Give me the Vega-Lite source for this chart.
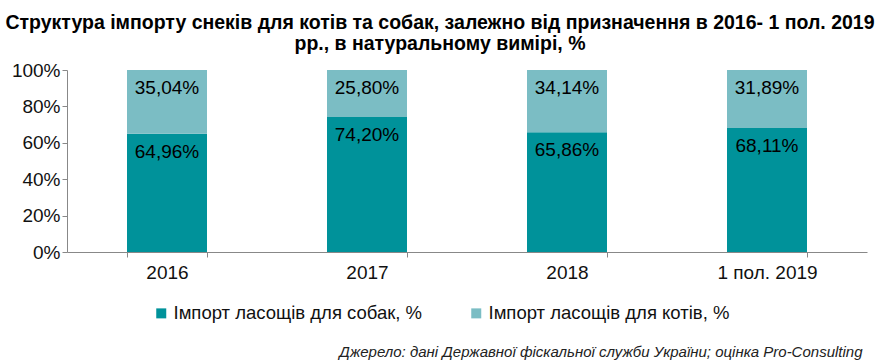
{
  "$schema": "https://vega.github.io/schema/vega-lite/v6.json",
  "width": 800,
  "height": 182,
  "autosize": {"type": "none"},
  "padding": {"left": 67, "top": 70, "right": 13, "bottom": 112},
  "background": "white",
  "config": {
    "view": {"stroke": null},
    "locale": {"number": {"decimal": ",", "thousands": " ", "grouping": [3], "currency": ["", ""]}},
    "font": "Liberation Sans"
  },
  "title": {
    "text": ["Структура імпорту снеків для котів та собак, залежно від призначення в 2016- 1 пол. 2019", "рр., в натуральному вимірі, %"],
    "font": "Liberation Sans",
    "fontSize": 19.5,
    "fontWeight": "bold",
    "color": "#000000",
    "anchor": "middle",
    "dx": -27,
    "lineHeight": 21,
    "offset": 7
  },
  "data": {
    "values": [
      {"period": "2016", "series": "Імпорт ласощів для собак, %", "share": 0.6496, "ord": 1},
      {"period": "2016", "series": "Імпорт ласощів для котів, %", "share": 0.3504, "ord": 2},
      {"period": "2017", "series": "Імпорт ласощів для собак, %", "share": 0.7420, "ord": 1},
      {"period": "2017", "series": "Імпорт ласощів для котів, %", "share": 0.2580, "ord": 2},
      {"period": "2018", "series": "Імпорт ласощів для собак, %", "share": 0.6586, "ord": 1},
      {"period": "2018", "series": "Імпорт ласощів для котів, %", "share": 0.3414, "ord": 2},
      {"period": "1 пол. 2019", "series": "Імпорт ласощів для собак, %", "share": 0.6811, "ord": 1},
      {"period": "1 пол. 2019", "series": "Імпорт ласощів для котів, %", "share": 0.3189, "ord": 2}
    ]
  },
  "encoding": {
    "x": {
      "field": "period",
      "type": "nominal",
      "sort": ["2016", "2017", "2018", "1 пол. 2019"],
      "scale": {"paddingInner": 0.6, "paddingOuter": 0.3},
      "axis": {
        "title": "Джерело: дані Державної фіскальної служби України; оцінка Pro-Consulting",
        "titleFont": "Liberation Sans",
        "titleFontSize": 15,
        "titleFontStyle": "italic",
        "titleFontWeight": "normal",
        "titleColor": "#222222",
        "titleAnchor": "end",
        "titleAlign": "right",
        "titleBaseline": "alphabetic",
        "titleX": 795,
        "titleY": 104,
        "labelAngle": 0,
        "labelFontSize": 19,
        "labelColor": "#111111",
        "labelPadding": 6,
        "tickBand": "extent",
        "tickSize": 5,
        "tickColor": "#888888",
        "domainColor": "#888888",
        "grid": false
      }
    },
    "y": {
      "field": "share",
      "type": "quantitative",
      "stack": "zero",
      "scale": {"domain": [0, 1]},
      "axis": {
        "title": null,
        "format": ".0%",
        "values": [0, 0.2, 0.4, 0.6, 0.8, 1],
        "labelOverlap": false,
        "labelFontSize": 19,
        "labelColor": "#111111",
        "labelPadding": 2,
        "tickSize": 5,
        "tickColor": "#888888",
        "domainColor": "#888888",
        "grid": false
      }
    },
    "order": {"field": "ord", "type": "quantitative"}
  },
  "layer": [
    {
      "mark": {"type": "bar"},
      "encoding": {
        "color": {
          "field": "series",
          "type": "nominal",
          "scale": {
            "domain": ["Імпорт ласощів для собак, %", "Імпорт ласощів для котів, %"],
            "range": ["#00929a", "#7bbdc4"]
          },
          "legend": {
            "title": null,
            "orient": "none",
            "direction": "horizontal",
            "legendX": 85,
            "legendY": 234,
            "symbolType": "square",
            "symbolSize": 100,
            "symbolStrokeWidth": 0,
            "labelFontSize": 18.5,
            "labelColor": "#111111",
            "labelOffset": 3,
            "columnPadding": 44,
            "labelLimit": 400
          }
        }
      }
    },
    {
      "mark": {"type": "text", "baseline": "top", "dy": 9, "fontSize": 19, "color": "#000000"},
      "encoding": {
        "text": {"field": "share", "type": "quantitative", "format": ".2%"}
      }
    }
  ]
}
